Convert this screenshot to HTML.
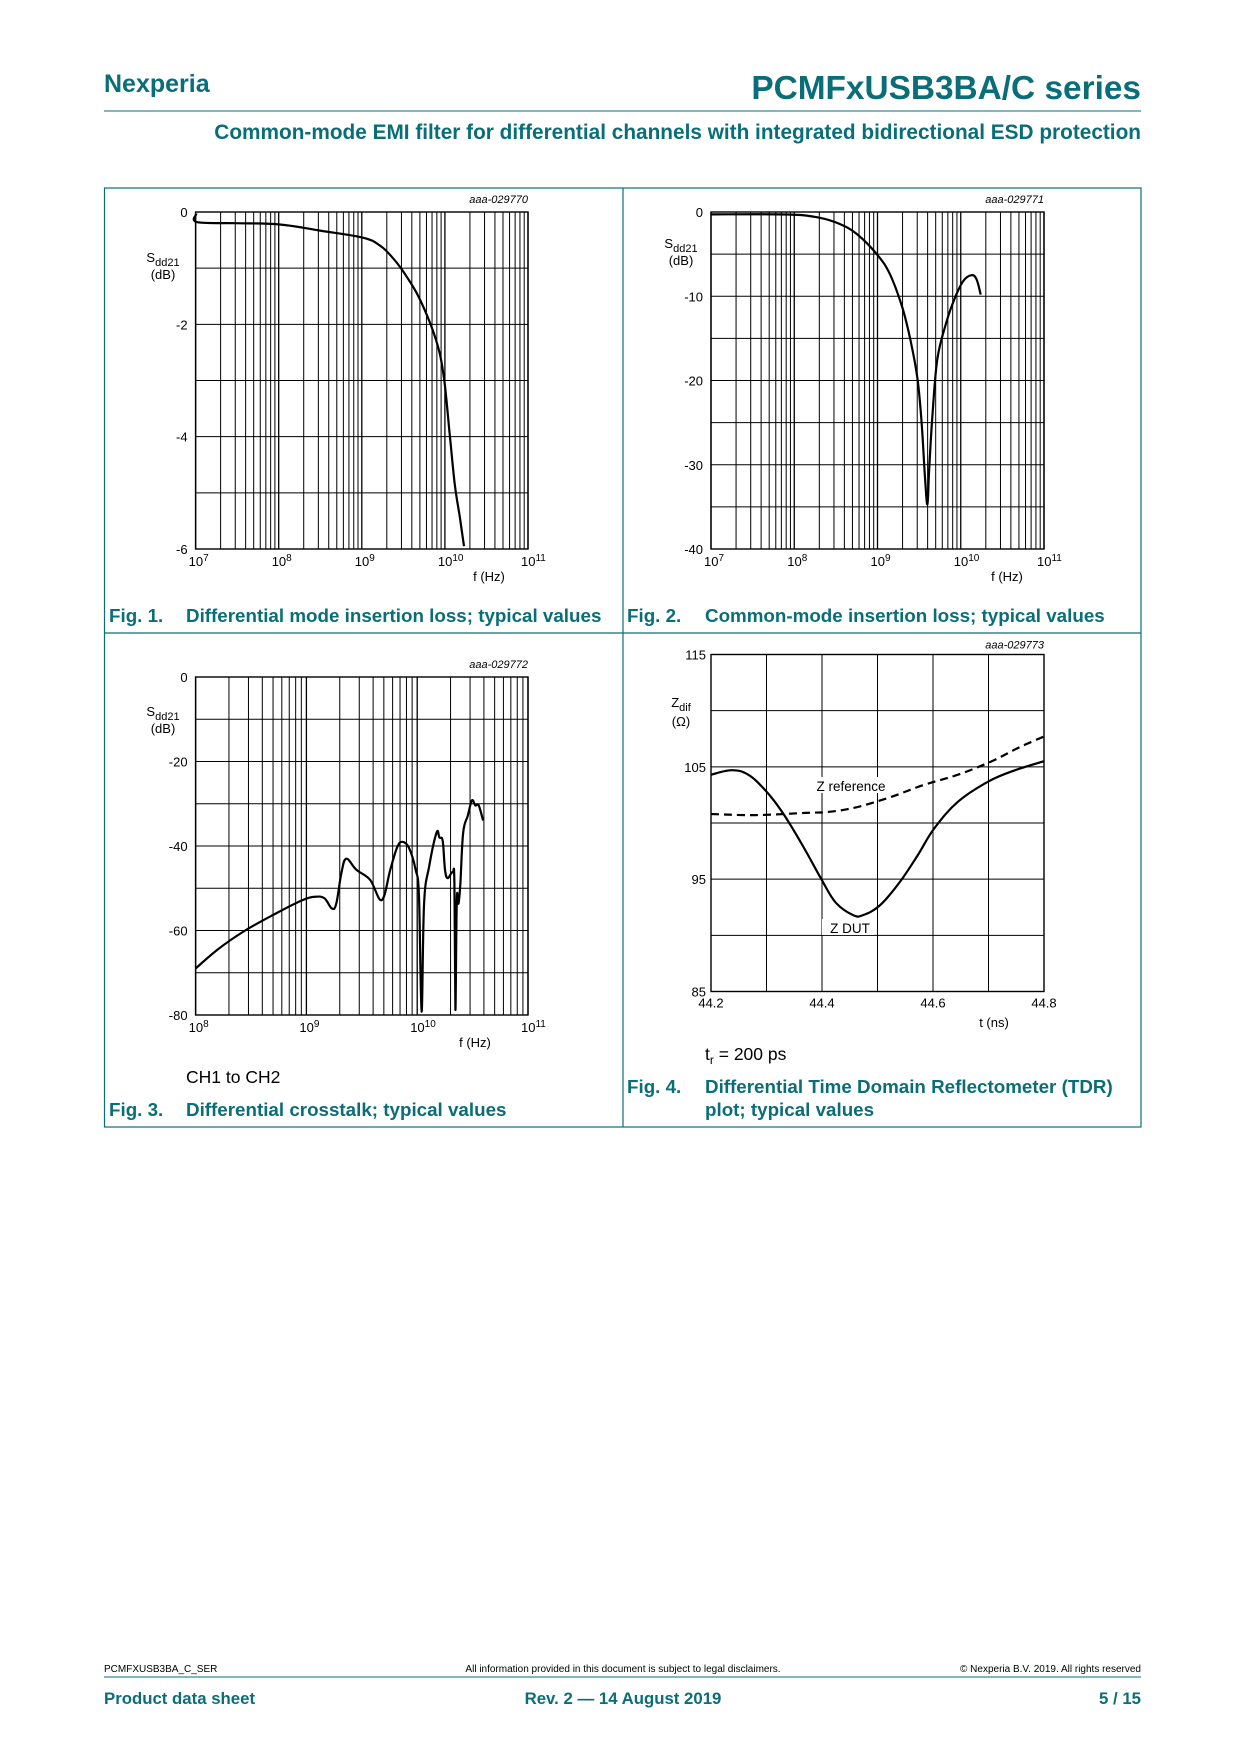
<!DOCTYPE html>
<html><head><meta charset="utf-8"><style>
body{margin:0;background:#fff;}
svg text{font-family:"Liberation Sans",Arial,sans-serif;}
</style></head><body>
<svg id="page" width="1240" height="1754" viewBox="0 0 1240 1754" xmlns="http://www.w3.org/2000/svg">
<text x="104" y="92" font-size="25" font-weight="bold" fill="#0a6e78">Nexperia</text>
<text x="1141" y="99" font-size="33.4" font-weight="bold" fill="#0a6e78" text-anchor="end">PCMFxUSB3BA/C series</text>
<line x1="104" y1="111" x2="1141" y2="111" stroke="#0a6e78" stroke-width="1"/>
<text x="1141" y="139" font-size="20.8" font-weight="bold" fill="#0a6e78" text-anchor="end">Common-mode EMI filter for differential channels with integrated bidirectional ESD protection</text>
<g stroke="#0a6e78" stroke-width="1.2" fill="none">
<rect x="104.5" y="188" width="1036.5" height="939"/>
<line x1="623" y1="188" x2="623" y2="1127"/>
<line x1="104.5" y1="633" x2="1141" y2="633"/>
</g>
<g id="charts"></g>
<g font-weight="bold" font-size="18.8" fill="#0a6e78">
<text x="109" y="622">Fig. 1.</text><text x="186" y="622">Differential mode insertion loss; typical values</text>
<text x="627" y="622">Fig. 2.</text><text x="705" y="622">Common-mode insertion loss; typical values</text>
<text x="109" y="1116">Fig. 3.</text><text x="186" y="1116">Differential crosstalk; typical values</text>
<text x="627" y="1093">Fig. 4.</text><text x="705" y="1093">Differential Time Domain Reflectometer (TDR)</text>
<text x="705" y="1116">plot; typical values</text>
</g>
<text x="186" y="1083" font-size="17.5">CH1 to CH2</text>
<text x="705" y="1060" font-size="17.5">t<tspan font-size="12" dy="4">r</tspan><tspan dy="-4"> = 200 ps</tspan></text>
<g>
<text x="104" y="1672" font-size="10">PCMFXUSB3BA_C_SER</text>
<text x="623" y="1672" font-size="10" text-anchor="middle">All information provided in this document is subject to legal disclaimers.</text>
<text x="1141" y="1672" font-size="10" text-anchor="end">© Nexperia B.V. 2019. All rights reserved</text>
<line x1="104" y1="1677" x2="1141" y2="1677" stroke="#0a6e78" stroke-width="1"/>
<text x="104" y="1704" font-size="16.8" font-weight="bold" fill="#0a6e78">Product data sheet</text>
<text x="623" y="1704" font-size="16.8" font-weight="bold" fill="#0a6e78" text-anchor="middle">Rev. 2 — 14 August 2019</text>
<text x="1141" y="1704" font-size="16.8" font-weight="bold" fill="#0a6e78" text-anchor="end">5 / 15</text>
</g>
</svg>
<script>
// Fig1: log10(f), dB
const fig1LogF=[7.01,7.016,7.476,8.0,8.49,9.02,9.22,9.35,9.48,9.67,9.83,9.935,9.996,10.057,10.118,10.18,10.23];
const fig1Db=[-0.03,-0.18,-0.2,-0.22,-0.33,-0.46,-0.6,-0.78,-1.02,-1.47,-2.01,-2.5,-3.04,-3.94,-4.84,-5.44,-5.95];
const fig1YTicks=[0,-2,-4,-6];
// Fig2
const fig2LogF=[7,7.93,8.3,8.54,8.75,8.99,9.15,9.3,9.4,9.48,9.53,9.57,9.6,9.62,9.66,9.72,9.83,9.93,10.03,10.13,10.19,10.24];
const fig2Db=[-0.28,-0.3,-0.68,-1.4,-2.6,-5.0,-7.4,-11.4,-15.4,-19.8,-25,-31.5,-34.7,-30.7,-24.2,-17.4,-13,-10.2,-8.2,-7.5,-8,-9.8];
const fig2YTicks=[0,-10,-20,-30,-40];
// Fig3
const fig3LogF=[8.0,8.204,8.448,8.722,8.966,9.087,9.164,9.23,9.27,9.316,9.36,9.45,9.575,9.68,9.757,9.818,9.864,9.925,9.986,10.016,10.04,10.062,10.108,10.175,10.2,10.23,10.251,10.275,10.32,10.336,10.345,10.357,10.373,10.39,10.415,10.457,10.494,10.524,10.555,10.595];
const fig3Db=[-69,-64.4,-60,-56,-52.8,-52,-52.4,-54.8,-53.6,-46.4,-43,-45.6,-48,-52.8,-45.6,-40.4,-39,-40.4,-45.6,-52,-79.2,-53.6,-44.8,-36.8,-38,-38.8,-45.6,-47.6,-46.2,-48.8,-78.8,-52.8,-53.6,-48.8,-36.8,-32.8,-29.2,-30.4,-30.4,-34];
const fig3YTicks=[0,-20,-40,-60,-80];
// Fig4
const fig4DutT=[44.2,44.237,44.267,44.298,44.328,44.365,44.401,44.425,44.456,44.474,44.505,44.541,44.572,44.602,44.645,44.7,44.748,44.8];
const fig4DutZ=[104.3,104.7,104.3,102.9,101.0,98.0,94.8,92.9,91.8,91.8,92.7,94.8,97.1,99.5,101.9,103.7,104.7,105.5];
const fig4RefT=[44.2,44.279,44.37,44.413,44.462,44.523,44.584,44.645,44.706,44.754,44.8];
const fig4RefZ=[100.8,100.7,100.9,101.0,101.4,102.3,103.4,104.3,105.5,106.7,107.7];
const fig4XTicks=["44.2","44.4","44.6","44.8"];
const fig4YTicks=[115,105,95,85];

const NS="http://www.w3.org/2000/svg";
const root=document.getElementById('charts');
function el(tag,attrs,parent,txt){const e=document.createElementNS(NS,tag);for(const k in attrs)e.setAttribute(k,attrs[k]);if(txt!==undefined)e.textContent=txt;(parent||root).appendChild(e);return e;}
function lin(d0,d1,r0,r1){return v=>r0+(v-d0)/(d1-d0)*(r1-r0);}
function pathD(xs,ys,sx,sy){
  const P=xs.map((v,i)=>[sx(v),sy(ys[i])]);
  let d='M'+P[0][0].toFixed(1)+' '+P[0][1].toFixed(1);
  const k=0.18;
  for(let i=0;i<P.length-1;i++){
    const p0=P[Math.max(0,i-1)],p1=P[i],p2=P[i+1],p3=P[Math.min(P.length-1,i+2)];
    const c1=[p1[0]+(p2[0]-p0[0])*k,p1[1]+(p2[1]-p0[1])*k];
    const c2=[p2[0]-(p3[0]-p1[0])*k,p2[1]-(p3[1]-p1[1])*k];
    d+=' C'+c1[0].toFixed(1)+' '+c1[1].toFixed(1)+' '+c2[0].toFixed(1)+' '+c2[1].toFixed(1)+' '+p2[0].toFixed(1)+' '+p2[1].toFixed(1);
  }
  return d;
}

function logChart(name,L,R,T,B,d0,d1,y0,y1,ystep,yTicks,code,xs,ys,ylabX,ylabY,fhzX){
  const g=el('g',{});
  
  
  const sx=lin(d0,d1,L,R), sy=lin(y0,y1,T,B);
  for(let d=d0;d<d1;d++)for(let m=2;m<=9;m++){const x=sx(d+Math.log10(m));const ln=el('line',{x1:x,y1:T,x2:x,y2:B,stroke:'#000','stroke-width':1},g);}
  for(let d=d0;d<=d1;d++){const x=sx(d);el('line',{x1:x,y1:T,x2:x,y2:B,stroke:'#000','stroke-width':1.3},g);
    const t=el('text',{x:x-7,y:B+17,'font-size':13},g,'10');
    
    el('tspan',{'font-size':10,dy:-5},t,String(d));}
  for(let v=y0;v>=y1-1e-9;v-=ystep){const y=sy(v);el('line',{x1:L,y1:y,x2:R,y2:y,stroke:'#000','stroke-width':1},g);}
  yTicks.forEach(v=>{const t=el('text',{x:L-8,y:sy(v)+5,'font-size':13,'text-anchor':'end'},g,String(v));});
  el('rect',{x:L,y:T,width:R-L,height:B-T,fill:'none',stroke:'#000','stroke-width':1.4},g);
  const yl=el('text',{x:ylabX,y:ylabY,'font-size':13,'text-anchor':'middle'},g,'S');
  
  el('tspan',{'font-size':11,dy:4},yl,'dd21');
  el('text',{x:ylabX,y:ylabY+17,'font-size':13,'text-anchor':'middle'},g,'(dB)');
  const xl=el('text',{x:fhzX,y:B+32,'font-size':13,'text-anchor':'middle'},g,'f (Hz)');
  
  const c=el('text',{x:R,y:T-9,'font-size':11,'font-style':'italic','text-anchor':'end'},g,code);
  
  const p=el('path',{d:pathD(xs,ys,sx,sy),fill:'none',stroke:'#000','stroke-width':2.2,'stroke-linejoin':'round'},g);
  
}
logChart('fig1-chart',195.6,528,212,549,7,11,0,-6,1,fig1YTicks,'aaa-029770',fig1LogF,fig1Db,163,262,489);
logChart('fig2-chart',711,1044,212,549,7,11,0,-40,5,fig2YTicks,'aaa-029771',fig2LogF,fig2Db,681,248,1007);
logChart('fig3-chart',195.6,528,677,1015,8,11,0,-80,10,fig3YTicks,'aaa-029772',fig3LogF,fig3Db,163,716,475);

(function(){
  const L=711,R=1044,T=654.5,B=991.5;
  const g=el('g',{});
  
  
  const sx=lin(44.2,44.8,L,R), sy=lin(115,85,T,B);
  for(let i=0;i<=6;i++){const x=sx(44.2+i*0.1);el('line',{x1:x,y1:T,x2:x,y2:B,stroke:'#000','stroke-width':1},g);}
  for(let i=0;i<=6;i++){const y=sy(115-i*5);el('line',{x1:L,y1:y,x2:R,y2:y,stroke:'#000','stroke-width':1},g);}
  el('rect',{x:L,y:T,width:R-L,height:B-T,fill:'none',stroke:'#000','stroke-width':1.4},g);
  fig4XTicks.forEach(v=>{const t=el('text',{x:sx(+v),y:B+16,'font-size':13,'text-anchor':'middle'},g,v);});
  fig4YTicks.forEach(v=>{const t=el('text',{x:L-5,y:sy(v)+5,'font-size':13,'text-anchor':'end'},g,String(v));});
  const yl=el('text',{x:681,y:707,'font-size':13,'text-anchor':'middle'},g,'Z');
  
  el('tspan',{'font-size':11,dy:4},yl,'dif');
  el('text',{x:681,y:726,'font-size':13,'text-anchor':'middle'},g,'(Ω)');
  const xl=el('text',{x:994,y:1027,'font-size':13,'text-anchor':'middle'},g,'t (ns)');
  
  const c=el('text',{x:R,y:T-6,'font-size':11,'font-style':'italic','text-anchor':'end'},g,'aaa-029773');
  
  const pr=el('path',{d:pathD(fig4RefT,fig4RefZ,sx,sy),fill:'none',stroke:'#000','stroke-width':2.2,'stroke-dasharray':'8,5'},g);
  
  const pd=el('path',{d:pathD(fig4DutT,fig4DutZ,sx,sy),fill:'none',stroke:'#000','stroke-width':2.2},g);
  
  el('rect',{x:806,y:777,width:90,height:16,fill:'#fff'},g);
  const l1=el('text',{x:851,y:791,'font-size':13.5,'text-anchor':'middle'},g,'Z reference');
  
  el('rect',{x:822,y:919,width:52,height:16,fill:'#fff'},g);
  const l2=el('text',{x:850,y:933,'font-size':13.5,'text-anchor':'middle'},g,'Z DUT');
  
})();
</script>
</body></html>
